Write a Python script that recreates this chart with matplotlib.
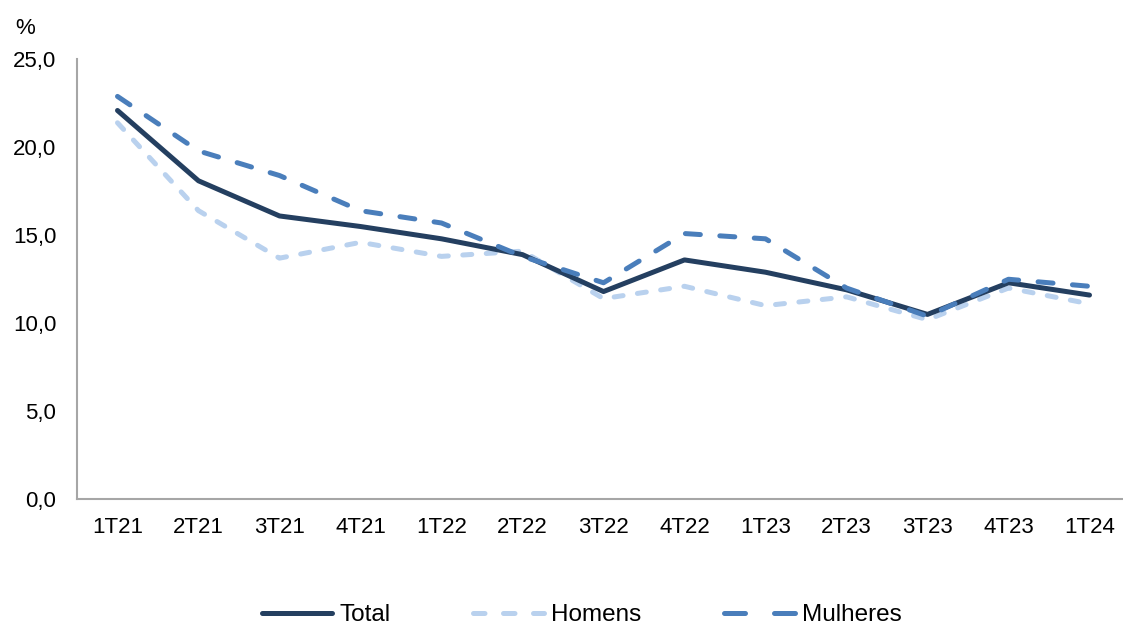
import numpy as np
import matplotlib
matplotlib.use("Agg")
import matplotlib.pyplot as plt
from matplotlib.lines import Line2D

plt.rcParams['font.family'] = ['Liberation Sans', 'DejaVu Sans']

quarters = ['1T21', '2T21', '3T21', '4T21', '1T22', '2T22', '3T22',
            '4T22', '1T23', '2T23', '3T23', '4T23', '1T24']
total = [22.1, 18.1, 16.1, 15.5, 14.8, 13.9, 11.8, 13.6, 12.9, 11.9, 10.5, 12.3, 11.6]
homens = [21.4, 16.4, 13.7, 14.6, 13.8, 14.1, 11.4, 12.1, 11.0, 11.5, 10.2, 12.0, 11.1]
mulheres = [22.9, 19.8, 18.4, 16.4, 15.7, 13.8, 12.3, 15.1, 14.8, 12.0, 10.4, 12.5, 12.1]

c_total = "#243F60"
c_homens = "#B9D1EE"
c_mulheres = "#4A7EBB"
lw = 3.6

fig = plt.figure(figsize=(11.23, 6.26), dpi=100)
ax = fig.add_axes([77 / 1123, 127 / 626, 1053 / 1123, 439.5 / 626])

x = np.arange(len(quarters))
ax.plot(x, total, color=c_total, lw=lw, solid_capstyle="round",
        solid_joinstyle="round", zorder=3)
ax.plot(x, homens, color=c_homens, lw=lw, dashes=(1.8, 2.9),
        dash_capstyle="round", zorder=2)
ax.plot(x, mulheres, color=c_mulheres, lw=lw, dashes=(3.0, 3.9),
        dash_capstyle="round", zorder=4)

ax.set_xlim(-0.5, len(quarters) - 0.5)
ax.set_ylim(0, 25)
ax.set_yticks(np.arange(0, 26, 5))
ax.set_yticklabels([f"{v:.1f}".replace(".", ",") for v in np.arange(0, 26, 5)])
ax.set_xticks(x)
ax.set_xticklabels(quarters)
ax.tick_params(length=0, labelsize=16, colors="black")
ax.tick_params(axis="y", pad=15)
ax.tick_params(axis="x", pad=13)

for side in ["top", "right"]:
    ax.spines[side].set_visible(False)
for side in ["left", "bottom"]:
    ax.spines[side].set_color("#A6A6A6")
    ax.spines[side].set_linewidth(1.5)

fig.text(25 / 1123, 1 - 28 / 626, "%", fontsize=16, ha="center", va="center")

# legend handles with their own dash patterns so each shows whole dashes
handles = [
    Line2D([], [], color=c_total, lw=lw, solid_capstyle="round"),
    Line2D([], [], color=c_homens, lw=lw, dashes=(2.3, 3.7), dash_capstyle="round"),
    Line2D([], [], color=c_mulheres, lw=lw, dashes=(4.2, 5.8), dash_capstyle="round"),
]
fig.legend(handles, ["Total", "Homens", "Mulheres"], loc="center",
           bbox_to_anchor=(0.518, 11 / 626), ncol=3, frameon=False,
           fontsize=17.5, handlelength=2.9, handletextpad=0.3, columnspacing=3.4,
           borderpad=0.2)

fig.savefig("out.png", dpi=100)
